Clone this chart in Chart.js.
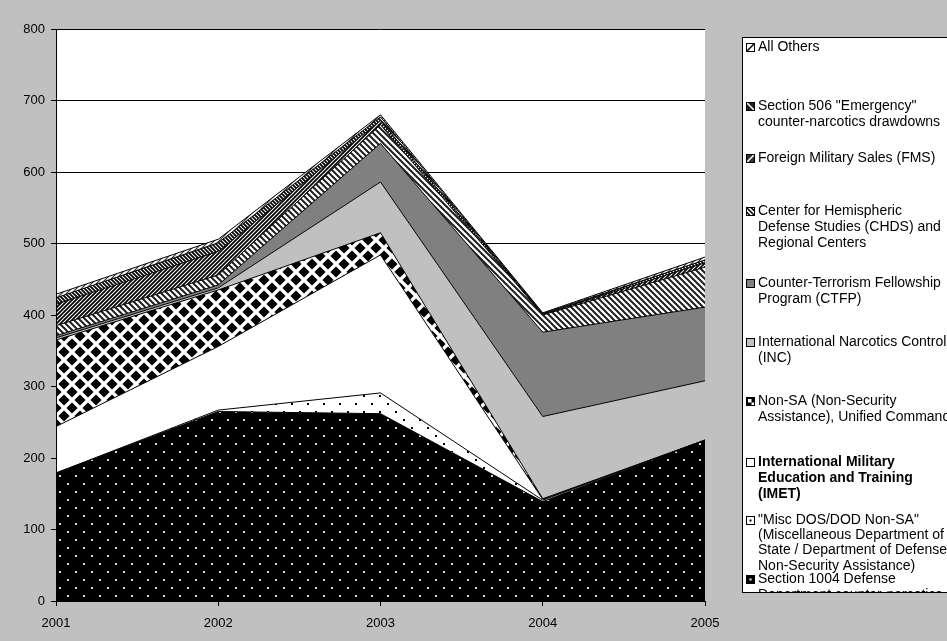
<!DOCTYPE html>
<html>
<head>
<meta charset="utf-8">
<script src="https://cdn.jsdelivr.net/npm/chart.js@4/dist/chart.umd.min.js"></script>
<style>
  html, body { margin: 0; padding: 0; background: #c0c0c0; }
  #wrap { width: 947px; height: 641px; }
</style>
</head>
<body>
<div id="wrap"><canvas id="c" width="947" height="641"></canvas></div>
<script>
// Years on the x axis
const years = ['2001', '2002', '2003', '2004', '2005'];

// Series values (millions), stacked bottom to top
const sec1004   = [179, 265, 262, 139, 225];
const miscDos   = [0, 2, 29, 2, 0];
const imet      = [65, 89, 193, 1, 0];
const nonSa     = [121, 79, 31, 1, 0];
const inc       = [3, 3, 71, 115, 83];
const ctfp      = [3, 4, 54, 118, 103];
const chds      = [14, 14, 26, 24, 56];
const fms       = [30, 33, 6, 1, 6];
const sec506    = [9, 12, 5, 1, 4];
const allOthers = [5, 5, 3, 1, 4];

// Y axis range
const yMin = 0, yMax = 800, yStep = 100;

// Legend text, one array of lines per series (top entry first)
const legendAllOthers = ['All Others'];
const legendSec506 = ['Section 506 "Emergency"', 'counter-narcotics drawdowns'];
const legendFms = ['Foreign Military Sales (FMS)'];
const legendChds = ['Center for Hemispheric', 'Defense Studies (CHDS) and', 'Regional Centers'];
const legendCtfp = ['Counter-Terrorism Fellowship', 'Program (CTFP)'];
const legendInc = ['International Narcotics Control', '(INC)'];
const legendNonSa = ['Non-SA (Non-Security', 'Assistance), Unified Command'];
const legendImet = ['International Military', 'Education and Training', '(IMET)'];
const legendMisc = ['"Misc DOS/DOD Non-SA"', '(Miscellaneous Department of', 'State / Department of Defense', 'Non-Security Assistance)'];
const legendSec1004 = ['Section 1004 Defense', 'Department counter-narcotics', 'support'];

const FONT = '"Liberation Sans", Arial, sans-serif';
const canvas = document.getElementById('c');
const ctx = canvas.getContext('2d');

function tile(w, h, paint) {
  const t = document.createElement('canvas');
  t.width = w; t.height = h;
  const g = t.getContext('2d');
  paint(g, w, h);
  return ctx.createPattern(t, 'repeat');
}

function stripes(s, width, fg, bg, forward) {
  return tile(s, s, (g) => {
    g.fillStyle = bg; g.fillRect(0, 0, s, s);
    g.strokeStyle = fg; g.lineWidth = width;
    g.beginPath();
    if (forward) {
      g.moveTo(0, s); g.lineTo(s, 0);
      g.moveTo(-s, s); g.lineTo(s, -s);
      g.moveTo(0, 2 * s); g.lineTo(2 * s, 0);
    } else {
      g.moveTo(0, 0); g.lineTo(s, s);
      g.moveTo(-s, 0); g.lineTo(s, 2 * s);
      g.moveTo(0, -s); g.lineTo(2 * s, s);
    }
    g.stroke();
  });
}

function dots(bg, fg) {
  return tile(16, 16, (g) => {
    g.fillStyle = bg; g.fillRect(0, 0, 16, 16);
    g.fillStyle = fg;
    g.fillRect(3, 3, 2, 2);
    g.fillRect(11, 11, 2, 2);
  });
}

const diamondFill = tile(16, 16, (g) => {
  g.fillStyle = '#ffffff'; g.fillRect(0, 0, 16, 16);
  g.fillStyle = '#000000';
  const r = 5.6;
  [[8, 8], [0, 0], [16, 0], [0, 16], [16, 16]].forEach(([cx, cy]) => {
    g.beginPath();
    g.moveTo(cx, cy - r); g.lineTo(cx + r, cy); g.lineTo(cx, cy + r); g.lineTo(cx - r, cy);
    g.closePath(); g.fill();
  });
});

const fills = {
  sec1004: dots('#000000', '#d8d8d8'),
  misc: dots('#ffffff', '#000000'),
  imet: '#ffffff',
  nonSa: diamondFill,
  inc: '#c0c0c0',
  ctfp: '#808080',
  chds: stripes(6, 2, '#202020', '#ffffff', false),
  fms: stripes(4, 1.8, '#000000', '#ffffff', true),
  sec506: stripes(4, 1.8, '#000000', '#ffffff', false),
  allOthers: stripes(5, 1.2, '#303030', '#ffffff', true)
};

function series(label, data, fill, first) {
  return {
    label, data,
    backgroundColor: fill,
    borderColor: '#000000',
    borderWidth: 1,
    pointRadius: 0,
    tension: 0,
    fill: first ? 'origin' : '-1'
  };
}

const datasets = [
  series('Section 1004 Defense Department counter-narcotics support', sec1004, fills.sec1004, true),
  series('"Misc DOS/DOD Non-SA" (Miscellaneous Department of State / Department of Defense Non-Security Assistance)', miscDos, fills.misc),
  series('International Military Education and Training (IMET)', imet, fills.imet),
  series('Non-SA (Non-Security Assistance), Unified Command', nonSa, fills.nonSa),
  series('International Narcotics Control (INC)', inc, fills.inc),
  series('Counter-Terrorism Fellowship Program (CTFP)', ctfp, fills.ctfp),
  series('Center for Hemispheric Defense Studies (CHDS) and Regional Centers', chds, fills.chds),
  series('Foreign Military Sales (FMS)', fms, fills.fms),
  series('Section 506 "Emergency" counter-narcotics drawdowns', sec506, fills.sec506),
  series('All Others', allOthers, fills.allOthers)
];

// Legend entries, top to bottom, with the vertical centre of each text line
const legendEntries = [
  { lines: legendAllOthers, ys: [47], icon: 'allOthers' },
  { lines: legendSec506, ys: [106, 122], icon: 'sec506' },
  { lines: legendFms, ys: [158], icon: 'fms' },
  { lines: legendChds, ys: [211, 227, 243], icon: 'chds' },
  { lines: legendCtfp, ys: [283, 299], icon: 'ctfp' },
  { lines: legendInc, ys: [342, 358], icon: 'inc' },
  { lines: legendNonSa, ys: [401, 417], icon: 'nonSa' },
  { lines: legendImet, ys: [462, 478, 494], icon: 'imet', bold: true },
  { lines: legendMisc, ys: [520, 535, 550, 566], icon: 'misc' },
  { lines: legendSec1004, ys: [579, 595, 611], icon: 'sec1004' }
];

function drawIcon(g, kind, x, y, s) {
  g.save();
  g.fillStyle = '#ffffff';
  g.fillRect(x, y, s, s);
  g.beginPath(); g.rect(x, y, s, s); g.clip();
  const fg = '#000000';
  if (kind === 'ctfp') { g.fillStyle = '#808080'; g.fillRect(x, y, s, s); }
  else if (kind === 'inc') { g.fillStyle = '#c0c0c0'; g.fillRect(x, y, s, s); }
  else if (kind === 'sec1004') {
    g.fillStyle = fg; g.fillRect(x, y, s, s);
    g.fillStyle = '#ffffff'; g.fillRect(x + s / 2 - 1, y + s / 2 - 1, 2, 2);
  } else if (kind === 'misc') {
    g.fillStyle = fg; g.fillRect(x + s / 2 - 1, y + s / 2 - 1, 2, 2);
  } else if (kind === 'nonSa') {
    g.fillStyle = fg; g.fillRect(x, y, s, s);
    g.fillStyle = '#ffffff'; g.fillRect(x + 2, y + 2, s / 2 - 1, s / 2 - 1);
    g.fillRect(x + s / 2 + 1, y + s / 2 + 1, s / 2 - 2, s / 2 - 2);
  } else if (kind === 'allOthers' || kind === 'fms') {
    if (kind === 'fms') { g.fillStyle = '#303030'; g.fillRect(x, y, s, s); }
    g.strokeStyle = kind === 'fms' ? '#ffffff' : fg;
    g.lineWidth = 1.5;
    g.beginPath(); g.moveTo(x, y + s); g.lineTo(x + s, y); g.stroke();
  } else if (kind === 'sec506' || kind === 'chds') {
    if (kind === 'sec506') { g.fillStyle = '#202020'; g.fillRect(x, y, s, s); }
    g.strokeStyle = kind === 'sec506' ? '#ffffff' : fg;
    g.lineWidth = 1.5;
    g.beginPath(); g.moveTo(x, y); g.lineTo(x + s, y + s);
    if (kind === 'chds') { g.moveTo(x, y + s / 2); g.lineTo(x + s / 2, y + s); g.moveTo(x + s / 2, y); g.lineTo(x + s, y + s / 2); }
    g.stroke();
  }
  g.restore();
  g.strokeStyle = '#000000'; g.lineWidth = 1;
  g.strokeRect(x + 0.5, y + 0.5, s - 1, s - 1);
}

const framePlugin = {
  id: 'frame',
  beforeDraw(chart) {
    const g = chart.ctx, a = chart.chartArea;
    g.save();
    g.fillStyle = '#c0c0c0';
    g.fillRect(0, 0, chart.width, chart.height);
    g.fillStyle = '#ffffff';
    g.fillRect(a.left, a.top, a.right - a.left, a.bottom - a.top);
    g.restore();
  },
  afterDatasetsDraw(chart) {
    const g = chart.ctx, a = chart.chartArea;
    g.save();
    g.strokeStyle = '#000000'; g.lineWidth = 1;
    g.beginPath();
    g.moveTo(Math.round(a.left) + 0.5, a.top);
    g.lineTo(Math.round(a.left) + 0.5, Math.round(a.bottom) + 0.5);
    g.lineTo(a.right, Math.round(a.bottom) + 0.5);
    g.stroke();
    g.restore();
  },
  afterDraw(chart) {
    const g = chart.ctx;
    const bx = 742, by = 37, bw = 947 - 742 + 10, bh = 592 - 37;
    g.save();
    g.fillStyle = '#ffffff';
    g.fillRect(bx, by, bw, bh);
    g.strokeStyle = '#000000'; g.lineWidth = 1;
    g.strokeRect(bx + 0.5, by + 0.5, bw, bh);
    g.beginPath(); g.rect(bx + 1, by + 1, bw - 2, bh - 1); g.clip();
    g.fillStyle = '#000000';
    g.textBaseline = 'middle';
    g.textAlign = 'left';
    legendEntries.forEach((e) => {
      drawIcon(g, e.icon, 746, Math.round(e.ys[0] - 4), 9);
      g.fillStyle = '#000000';
      g.font = (e.bold ? 'bold ' : '') + '14px ' + FONT;
      e.lines.forEach((t, i) => g.fillText(t, 758, e.ys[i]));
    });
    g.restore();
  }
};

new Chart(canvas, {
  type: 'line',
  data: { labels: years, datasets },
  plugins: [framePlugin],
  options: {
    responsive: false,
    animation: false,
    layout: { padding: { top: 29, right: 242, bottom: 0, left: 0 } },
    plugins: { legend: { display: false }, tooltip: { enabled: false } },
    scales: {
      x: {
        offset: false,
        grid: { display: true, drawOnChartArea: false, drawTicks: true, tickLength: 5, color: '#000000' },
        border: { display: false },
        ticks: { color: '#000000', font: { family: FONT, size: 13 }, padding: 10, maxRotation: 0, autoSkip: false },
        afterFit(s) { s.height = 40; }
      },
      y: {
        stacked: true,
        min: yMin, max: yMax,
        grid: { color: '#000000', lineWidth: 1, tickLength: 5, drawTicks: true },
        border: { display: false },
        ticks: { stepSize: yStep, color: '#000000', font: { family: FONT, size: 13 }, padding: 6 },
        afterFit(s) { s.width = 56; }
      }
    }
  }
});
</script>
</body>
</html>
